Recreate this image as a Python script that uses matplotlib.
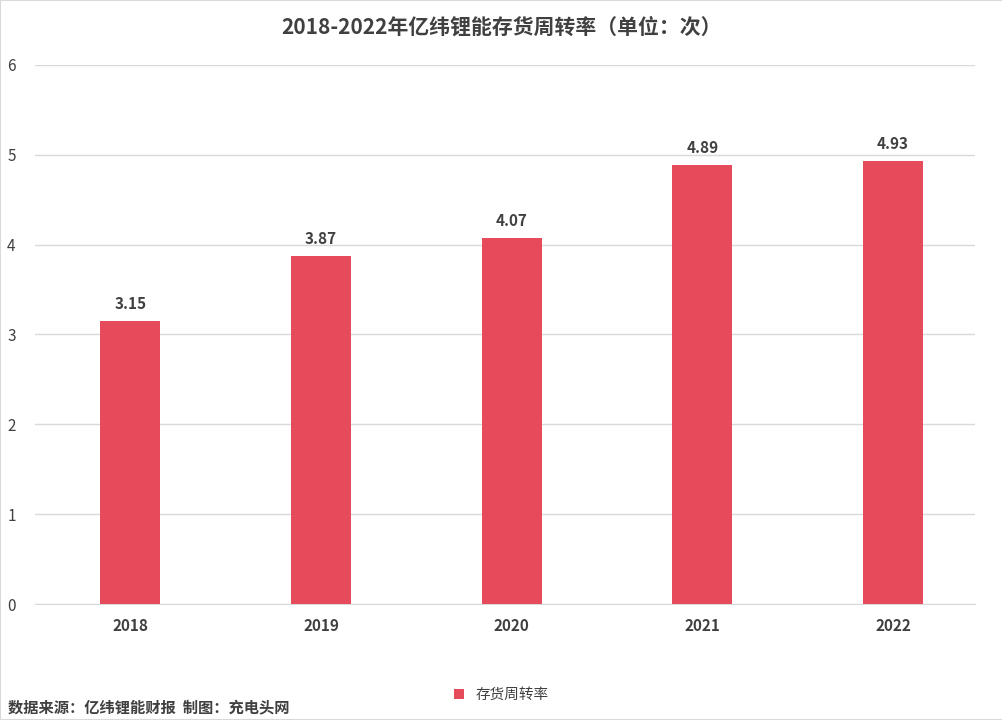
import matplotlib
matplotlib.use('Agg')
import matplotlib.pyplot as plt
from matplotlib.patches import Rectangle

plt.rcParams['font.family'] = ['Noto Sans CJK SC', 'DejaVu Sans']

years = ['2018', '2019', '2020', '2021', '2022']
turnover = [3.15, 3.87, 4.07, 4.89, 4.93]
yticks = [0, 1, 2, 3, 4, 5, 6]

BAR = '#E64B5C'
TXT = '#404040'

fig = plt.figure(figsize=(10.03, 7.2), dpi=100)
fig.patches.append(Rectangle((0, 0), 1, 1, transform=fig.transFigure,
                             fill=False, edgecolor='#D9D9D9', lw=1.5))
ax = fig.add_axes([0.035, 0.161, 0.937, 0.749])

x = range(len(years))
bars = ax.bar(x, turnover, width=0.315, color=BAR, zorder=3, label='存货周转率')
for xi, v in zip(x, turnover):
    ax.text(xi, v + 0.1, f'{v:.2f}', ha='center', va='bottom',
            fontsize=11, fontweight='bold', color=TXT)

ax.set_ylim(0, 6)
ax.set_xlim(-0.5, 4.43)
ax.set_yticks(yticks)
ax.set_xticks(list(x))
ax.set_xticklabels(years, fontsize=11, fontweight='bold', color=TXT)
ax.tick_params(axis='y', labelsize=11, colors=TXT, length=0, pad=14)
ax.tick_params(axis='x', length=0, pad=10)
ax.grid(axis='y', color='#D9D9D9', lw=1, zorder=0)
for s in ['top', 'right', 'left']:
    ax.spines[s].set_visible(False)
ax.spines['bottom'].set_color('#D9D9D9')

fig.text(0.5, 0.962, '2018-2022年亿纬锂能存货周转率（单位：次）', ha='center',
         va='center', fontsize=15, fontweight='bold', color=TXT)
fig.text(0.008, 0.018, '数据来源：亿纬锂能财报  制图：充电头网', ha='left',
         va='center', fontsize=11, fontweight='bold', color=TXT)
fig.legend(handles=[bars], loc='center', bbox_to_anchor=(0.5, 0.035),
           frameon=False, fontsize=10.5, handlelength=0.7, handleheight=0.7,
           labelcolor=TXT)

fig.savefig('out.png', dpi=100)
